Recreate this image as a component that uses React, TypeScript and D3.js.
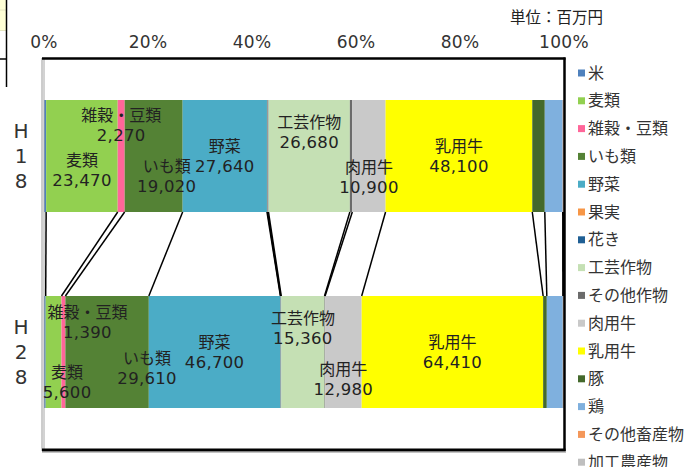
import React from "react";
import * as d3 from "d3";

// ---- data ----
const categories = ["H18", "H28"];
const seriesNames = [
  "米", "麦類", "雑穀・豆類", "いも類", "野菜", "果実", "花き", "工芸作物",
  "その他作物", "肉用牛", "乳用牛", "豚", "鶏", "その他畜産物", "加工農産物",
];
const valuesH18 = [700, 23470, 2270, 19020, 27640, 200, 300, 26680, 800, 10900, 48100, 4100, 5900, 300, 100];
const valuesH28 = [600, 5600, 1390, 29610, 46700, 100, 200, 15360, 200, 12980, 64410, 1300, 5700, 300, 100];
const seriesColors = [
  "#4F81BD", "#92D050", "#FF6699", "#548235", "#4BACC6", "#F79646", "#1F5F94",
  "#C5E0B4", "#6B6B6B", "#C9C9C9", "#FFFF00", "#44692C", "#7FB0DE", "#F4975A", "#BFBFBF",
];
const xTicks = [0, 0.2, 0.4, 0.6, 0.8, 1];
const labeledSeries = ["麦類", "雑穀・豆類", "いも類", "野菜", "工芸作物", "肉用牛", "乳用牛"];
const unitText = "単位：百万円";

// ---- layout (label nudges, not data) ----
const labelNudge: Record<string, Record<string, [number, number]>> = {
  H18: {
    "麦類": [0, 14], "雑穀・豆類": [0, -31], "いも類": [13, 20], "野菜": [0, 0],
    "工芸作物": [0, -24], "肉用牛": [0, 21], "乳用牛": [0, 0],
  },
  H28: {
    "麦類": [13.5, 30], "雑穀・豆類": [24, -30], "いも類": [40, 16], "野菜": [0, 0],
    "工芸作物": [0, -24], "肉用牛": [0, 27], "乳用牛": [0, 0],
  },
};

const W = 685, H = 467;
const plot = { left: 44, right: 564, top: 58, bottom: 450 };
const JP = "'Noto Sans CJK JP', sans-serif";
const NUM = "'DejaVu Sans', 'Noto Sans CJK JP', sans-serif";

export default function App() {
  const dataByCat: Record<string, number[]> = { H18: valuesH18, H28: valuesH28 };
  const x = d3.scaleLinear().domain([0, 1]).range([plot.left, plot.right]);
  const y = d3
    .scaleBand<string>()
    .domain(categories)
    .range([plot.top, plot.bottom])
    .paddingInner(0.4286)
    .paddingOuter(0.2143);
  const fmt = d3.format(",");

  const stacks = categories.map((c) => {
    const vals = dataByCat[c];
    const total = d3.sum(vals);
    let acc = 0;
    return vals.map((v, i) => {
      const s = acc / total;
      acc += v;
      return { cat: c, name: seriesNames[i], value: v, i, x0: s, x1: acc / total };
    });
  });

  const bw = y.bandwidth();
  const s0 = stacks[0], s1 = stacks[1];
  const yBot0 = (y(categories[0]) as number) + bw;
  const yTop1 = y(categories[1]) as number;

  return (
    <svg width={W} height={H} style={{ position: "absolute", left: 0, top: 0, background: "#fff" }}>
      {/* fragment of neighbouring object at top-left */}
      <rect x={0} y={0} width={6} height={30} fill="#FFFFD5" />
      <line x1={0} x2={6} y1={10} y2={10} stroke="#E6E6C0" />
      <line x1={0} x2={6} y1={30.5} y2={30.5} stroke="#E6E6C0" />
      <line x1={6.5} x2={6.5} y1={0} y2={87} stroke="#000" strokeWidth={1.5} />
      <line x1={0} x2={6.5} y1={59} y2={59} stroke="#000" strokeWidth={1.5} />

      {/* unit */}
      <text x={510} y={23} fontFamily={JP} fontSize={15.5} fill="#222">{unitText}</text>

      {/* tick labels */}
      {xTicks.map((t) => (
        <text key={t} x={x(t)} y={48} textAnchor="middle" fontFamily={NUM} fontSize={17}
          letterSpacing={0.3} fill="#333">{d3.format(".0%")(t)}</text>
      ))}

      {/* bars */}
      {stacks.map((st) =>
        st.map((d) => (
          <rect key={d.cat + d.i} x={x(d.x0)} y={y(d.cat)} width={Math.max(0, x(d.x1) - x(d.x0))}
            height={bw} fill={seriesColors[d.i]} />
        ))
      )}

      {/* series lines */}
      {s0.map((d, i) => (
        <line key={"sl" + i} x1={x(d.x1)} x2={x(s1[i].x1)} y1={yBot0} y2={yTop1}
          stroke="#000" strokeWidth={1.5} />
      ))}

      {/* frame */}
      <line x1={42} x2={42} y1={plot.top} y2={plot.bottom + 1} stroke="#9A9A9A" strokeWidth={1} />
      <line x1={44} x2={44} y1={plot.top} y2={plot.bottom} stroke="#A6A6A6" strokeWidth={1} />
      <line x1={42} x2={plot.right + 1.5} y1={plot.top + 0.5} y2={plot.top + 0.5} stroke="#000" strokeWidth={2.5} />
      <line x1={plot.right + 0.5} x2={plot.right + 0.5} y1={plot.top - 0.5} y2={plot.bottom + 1} stroke="#000" strokeWidth={2.5} />
      <line x1={42} x2={plot.right + 1.5} y1={plot.bottom} y2={plot.bottom} stroke="#000" strokeWidth={3} />
      <line x1={42} x2={plot.right + 2} y1={plot.bottom + 2} y2={plot.bottom + 2} stroke="#888" strokeWidth={1} />

      {/* data labels */}
      {stacks.map((st) =>
        st.filter((d) => labeledSeries.includes(d.name)).map((d) => {
          const [dx, dy] = labelNudge[d.cat][d.name];
          const cx = (x(d.x0) + x(d.x1)) / 2 + dx;
          const cy = (y(d.cat) as number) + bw / 2 + dy;
          return (
            <g key={"lb" + d.cat + d.i} fill="#222">
              <text x={cx} y={cy - 10 + 5.6} textAnchor="middle" fontFamily={JP} fontSize={16}>{d.name}</text>
              <text x={cx} y={cy + 10 + 5.8} textAnchor="middle" fontFamily={NUM} fontSize={16.5}
                letterSpacing={0.3}>{fmt(d.value)}</text>
            </g>
          );
        })
      )}

      {/* category labels (stacked vertically) */}
      {categories.map((c) => {
        const cy = (y(c) as number) + bw / 2 - 1;
        const chars = c.split("");
        return chars.map((ch, k) => (
          <text key={c + k} x={21} y={cy + (k - 1) * 25 + 7.5} textAnchor="middle" fontFamily={NUM}
            fontSize={20} fill="#333">{ch}</text>
        ));
      })}

      {/* legend */}
      {seriesNames.map((n, i) => {
        const cy = 73 + i * 27.8;
        return (
          <g key={"lg" + i}>
            <rect x={578} y={cy - 3.5} width={7} height={7} fill={seriesColors[i]} />
            <text x={588} y={cy + 5.6} fontFamily={JP} fontSize={16} fill="#333">{n}</text>
          </g>
        );
      })}
    </svg>
  );
}
